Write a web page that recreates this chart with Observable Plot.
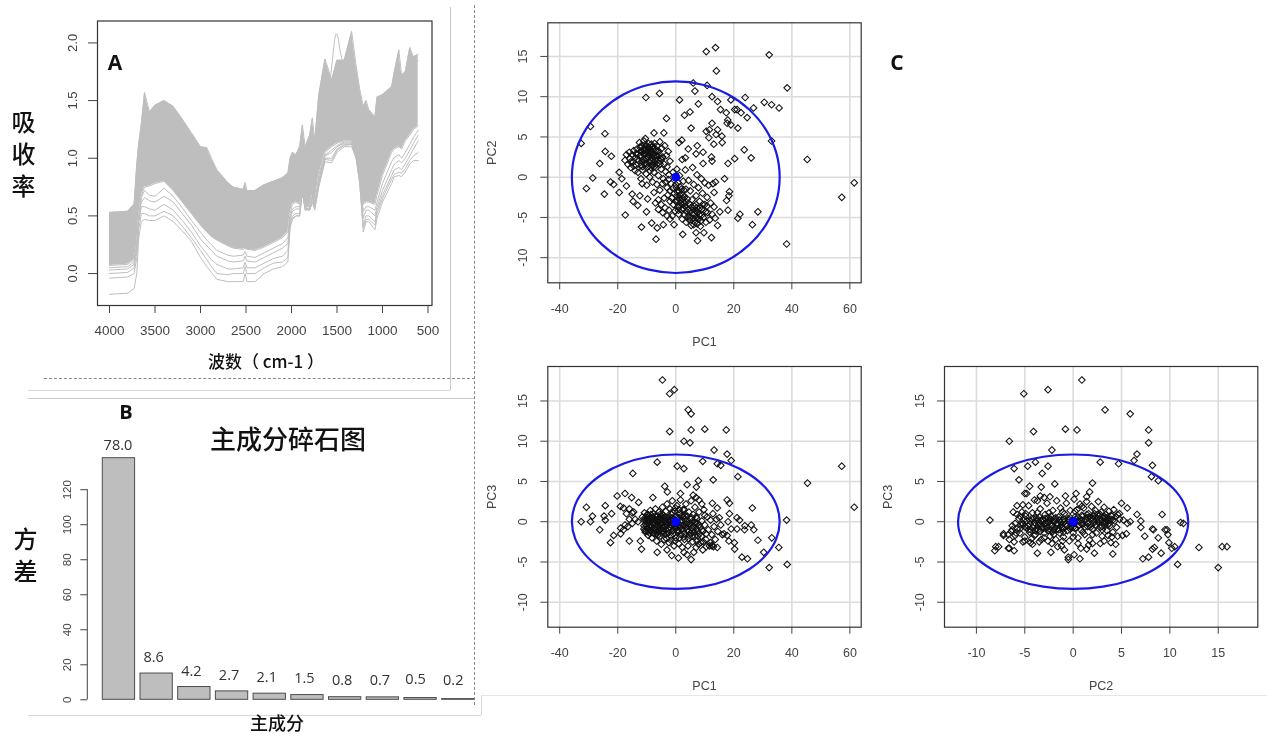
<!DOCTYPE html>
<html><head><meta charset="utf-8">
<script src="https://cdn.jsdelivr.net/npm/d3@7"></script>
<script src="https://cdn.jsdelivr.net/npm/@observablehq/plot@0.6"></script>
<style>
html,body{margin:0;padding:0;background:#fff;}
#page{position:relative;width:1267px;height:736px;overflow:hidden;filter:blur(.4px);}
#page svg{position:absolute;left:0;top:0;background:transparent;max-width:none;}
.t{position:absolute;font-family:"Noto Sans CJK SC","Noto Sans",sans-serif;font-weight:500;color:#111;white-space:nowrap;line-height:1;transform:translate(-50%,-50%);z-index:5;}
.b{font-family:"Open Sans","Noto Sans",sans-serif;font-weight:700;font-size:20px;color:#111;}
.v{writing-mode:vertical-rl;text-orientation:upright;letter-spacing:8px;}
.l{position:absolute;z-index:1;}
</style></head><body><div id="page"></div>
<script>
// ---------- Panel A: spectra ----------
const wavenumbers=[4000,3800,3730,3700,3680,3650,3615,3560,3500,3400,3300,3200,3100,3000,2930,2880,2820,2700,2640,2530,2510,2490,2400,2300,2200,2100,2040,2015,1990,1950,1910,1880,1850,1800,1770,1745,1700,1632,1558,1500,1420,1339,1290,1250,1211,1180,1150,1083,1060,1000,900,870,820,790,750,700,660,608];
const bandUpper=[.53,.54,.6,.95,1.12,1.3,1.57,1.4,1.46,1.5,1.45,1.34,1.22,1.1,1.09,1,.9,.79,.75,.73,.79,.72,.72,.77,.8,.83,.87,1,1.05,1.03,1.1,1.29,1.1,1.2,1.35,1.15,1.55,1.86,1.68,1.85,1.85,2.1,1.8,1.6,1.45,1.5,1.42,1.36,1.53,1.55,1.62,1.75,1.94,1.72,1.75,1.96,1.88,1.9];
const bandLower=[.07,.08,.12,.25,.5,.68,.75,.76,.78,.8,.72,.62,.52,.42,.36,.32,.29,.24,.22,.21,.22,.21,.2,.23,.27,.31,.36,.52,.6,.62,.6,.68,.58,.58,.68,.6,.85,1.05,1.1,1.13,1.15,1.15,1.05,.85,.6,.62,.62,.6,.68,.85,1.05,1.08,1.1,1.08,1.15,1.2,1.25,1.28];
const specHigh=[.5,.51,.57,.9,1.08,1.25,1.5,1.38,1.44,1.48,1.43,1.32,1.2,1.08,1.03,.96,.87,.76,.72,.7,.72,.69,.69,.74,.77,.8,.84,.98,1.03,1.01,1.05,1.2,1.05,1.15,1.25,1.1,1.5,1.78,1.68,1.8,1.85,1.95,1.75,1.55,1.4,1.45,1.38,1.32,1.45,1.5,1.58,1.68,1.8,1.68,1.7,1.85,1.8,1.85];
const specLow1=[-.18,-.17,-.13,0,.3,.45,.47,.46,.46,.5,.45,.37,.28,.14,.06,.01,-.05,-.07,-.07,-.07,0,-.07,-.07,0,.04,.06,.1,.4,.47,.5,.5,.72,.55,.55,.62,.55,.75,.97,.96,1.05,1.1,1.1,1,.78,.36,.45,.45,.38,.48,.62,.78,.84,.85,.84,.88,.95,.98,.98];
const specLow2=[-.04,-.03,0,.14,.38,.52,.52,.5,.5,.54,.5,.41,.31,.2,.12,.06,0,-.01,0,0,.06,0,0,.05,.09,.1,.14,.42,.48,.5,.5,.72,.58,.55,.62,.56,.77,.99,.98,1.07,1.11,1.12,1,.78,.4,.47,.47,.42,.52,.65,.82,.86,.88,.87,.91,.98,1.02,1.05];
const specLow3=[0,.01,.05,.2,.44,.58,.58,.56,.55,.6,.55,.46,.36,.24,.17,.12,.08,.04,.04,.05,.1,.05,.05,.09,.13,.15,.2,.44,.5,.52,.52,.72,.58,.55,.64,.58,.78,1,1,1.08,1.12,1.12,1.02,.8,.42,.5,.5,.45,.55,.68,.85,.9,.92,.9,.95,1.02,1.08,1.15];
const specLow4=[.03,.04,.08,.23,.47,.62,.66,.63,.62,.67,.62,.52,.42,.3,.24,.2,.15,.11,.1,.11,.15,.11,.1,.14,.18,.22,.26,.47,.54,.56,.56,.72,.55,.57,.66,.58,.8,1.02,1.05,1.1,1.13,1.13,1.03,.82,.48,.55,.55,.5,.58,.72,.9,.95,.98,.96,1,1.07,1.13,1.2];
const specLow5=[.05,.06,.1,.25,.49,.66,.72,.68,.67,.74,.67,.57,.46,.36,.29,.25,.2,.16,.15,.16,.19,.15,.14,.18,.22,.26,.31,.49,.56,.58,.58,.7,.56,.57,.67,.59,.82,1.03,1.07,1.11,1.14,1.14,1.04,.83,.54,.58,.58,.55,.62,.78,.97,1.01,1.03,1,1.05,1.12,1.18,1.24];
const peakWavenumbers=[1620,1580,1550,1530,1510,1490,1470,1440,1400];
const peakValues=[1.8,1.7,1.85,2,2.08,2.05,1.95,1.85,1.8];
const spectraTicks=[4000,3500,3000,2500,2000,1500,1000,500];
const absorbTicks=[0,.5,1,1.5,2];

// ---------- Panel B: scree plot ----------
const components=["PC1","PC2","PC3","PC4","PC5","PC6","PC7","PC8","PC9","PC10"];
const variances=[138,15,7.3,4.8,3.5,2.7,1.5,1.4,1,.4];
const percentLabels=["78.0","8.6","4.2","2.7","2.1","1.5","0.8","0.7","0.5","0.2"];
const varianceTicks=[0,20,40,60,80,100,120];

// ---------- Panel C: scores ----------
const pc1Ticks=[-40,-20,0,20,40,60];
const pc2Ticks=[-10,-5,0,5,10,15];
const pc3Ticks=[-10,-5,0,5,10,15];
const ellipse12=[[35.8,0],[34.6,3.08],[31,5.95],[25.3,8.41],[17.9,10.31],[9.27,11.49],[0,11.9],[-9.27,11.49],[-17.9,10.31],[-25.3,8.41],[-31,5.95],[-34.6,3.08],[-35.8,0],[-34.6,-3.08],[-31,-5.95],[-25.3,-8.41],[-17.9,-10.31],[-9.27,-11.49],[0,-11.9],[9.27,-11.49],[17.9,-10.31],[25.3,-8.41],[31,-5.95],[34.6,-3.08]];
const ellipse13=[[35.8,0],[34.6,2.16],[31,4.18],[25.3,5.9],[17.9,7.23],[9.27,8.07],[0,8.35],[-9.27,8.07],[-17.9,7.23],[-25.3,5.9],[-31,4.18],[-34.6,2.16],[-35.8,0],[-34.6,-2.16],[-31,-4.18],[-25.3,-5.9],[-17.9,-7.23],[-9.27,-8.07],[0,-8.35],[9.27,-8.07],[17.9,-7.23],[25.3,-5.9],[31,-4.18],[34.6,-2.16]];
const ellipse23=[[11.9,0],[11.49,2.16],[10.31,4.18],[8.41,5.9],[5.95,7.23],[3.08,8.07],[0,8.35],[-3.08,8.07],[-5.95,7.23],[-8.41,5.9],[-10.31,4.18],[-11.49,2.16],[-11.9,0],[-11.49,-2.16],[-10.31,-4.18],[-8.41,-5.9],[-5.95,-7.23],[-3.08,-8.07],[0,-8.35],[3.08,-8.07],[5.95,-7.23],[8.41,-5.9],[10.31,-4.18],[11.49,-2.16]];
const centre=[[0,0]];

const scores12=[[10.5,15.6],[13.7,16.1],[32.2,15.2],[14,13.2],[38.4,11.1],[6,11.7],[10.8,11.4],[6.6,10.7],[-5.6,10.4],[-10.3,9.9],[1.3,9.6],[12.5,10],[14.4,9.4],[7.8,9.1],[19,9.6],[23.9,9.9],[30.5,9.3],[33,9],[35.6,8.6],[26.8,8.6],[15.4,8.4],[17.4,8],[20.3,8.4],[21.1,8.4],[22.5,8],[24.6,7.4],[4.9,8.1],[3,7.7],[-3.2,7.3],[17.9,7.1],[17.7,6.7],[19,6.5],[21.4,6.1],[12.5,6.7],[5.3,6.1],[10.5,5.7],[11.6,5.9],[14.4,5.9],[11.4,4.9],[13.9,5.3],[15.9,5.1],[16,4.3],[13.1,4.1],[33,4.5],[45.3,2.2],[57.2,-2.5],[61.5,-.7],[38.2,-8.3],[-29.4,6.3],[-32.6,4.2],[-24.4,5.4],[-7.5,5.5],[-4.1,5.5],[-10.5,4.8],[-24.3,3.2],[-22.2,2.6],[-26.2,1.7],[-28.6,-.1],[-30.8,-1.4],[-24.6,-2.1],[-22.5,-.6],[-21.4,-.9],[-19.5,-1.9],[-17.4,-4.7],[-11.8,-6.2],[-8.3,-5.7],[-6.8,-7.7],[-6.4,-6.3],[-4.3,-5.9],[-.6,-5.9],[2.4,-7.1],[7,-6.9],[7.5,-7.9],[9.7,-6.9],[12.3,-7.5],[14.4,-6],[15.2,-4.3],[16.8,-.2],[13.7,-.6],[13.2,-1.9],[18.5,-1.8],[18.3,-2.3],[17.5,-2.9],[18,-4.1],[21.4,-5.1],[22.1,-4.6],[28.3,-4.3],[26.4,-5.9],[18,1.7],[20.3,2.3],[23.6,3.4],[26,2.4],[12.3,2.5],[12.5,2],[9.4,1.7],[9.4,3.1],[7.4,3.9],[7,2.9],[4.3,3.5],[2.1,4.6],[1.1,4.3],[3.3,2.4],[2.2,2.2],[-15,-2.1],[-14.7,-3],[-13.1,-3.5],[-12.4,-2.3],[-10.1,-4.3],[-9.7,-2.7],[-11.6,-.8],[-17,-1.1],[-19.5,.6],[-18.6,-.2],
[-17.5,2.1],[-17,2.8],[-16.5,1.6],[-16,3.1],[-15.8,2.3],[-15.5,1.2],[-15,2.8],[-14.8,1.9],[-14.5,3.3],[-14,.8],[-14,2.4],[-13.6,1.5],[-13.4,3.5],[-13,2.9],[-13,.6],[-12.8,2.1],[-12.5,4.3],[-12.3,3.7],[-12,1.4],[-12,2.7],[-11.7,3.2],[-11.5,.9],[-11.3,2.2],[-11,4.5],[-11,3.6],[-10.8,1.7],[-10.5,2.9],[-10.2,.4],[-10,3.9],[-10,2.3],[-9.8,3.3],[-9.6,1.3],[-9.4,4.2],[-9.2,2.7],[-9,3.6],[-9,1.9],[-8.8,.8],[-8.5,3.1],[-8.4,4.1],[-8.2,2.4],[-8,1.5],[-7.9,3.5],[-7.6,2.9],[-7.5,.6],[-7.3,4.2],[-7.1,2.1],[-7,3.3],[-6.8,1.2],[-6.5,3.9],[-6.3,2.6],[-6,.2],[-6,1.8],[-5.8,3.2],[-5.5,4.4],[-5.3,2.3],[-5,1],[-4.8,3.6],[-4.5,2.5],[-4.3,-.2],[-4,1.6],[-3.8,3.9],[-3.5,.7],[-3.2,2.7],[-3,1.3],[-2.6,3.2],[-2.4,.3],[-2,2],
[-3.5,-.6],[-3,-1.3],[-2.7,-2.2],[-2.5,-.3],[-2,-1.7],[-2,-3],[-1.6,-.8],[-1.4,-2.6],[-1,.6],[-1,-1.4],[-.8,-3.4],[-.5,-2],[-.2,-4.2],[0,-.9],[0,-3],[.4,1],[.5,-1.8],[.7,-3.7],[1,-2.6],[1,-4.6],[1.3,.2],[1.5,-1.2],[1.7,-3.2],[2,-4],[2.2,-5.2],[2.5,-2.2],[2.6,-.5],[3,-3.3],[3,-4.7],[3.3,.9],[3.5,-1.5],[3.6,-5.6],[4,-2.7],[4.2,-4],[4.4,-.4],[4.6,-3.3],[5,-5],[5,-1.7],[5.3,-6],[5.6,-2.8],[5.8,1.2],[6,-3.9],[6.2,-.9],[6.5,-4.6],[6.6,-5.6],[7,-2.3],[7,-3.4],[7.3,.3],[7.5,-4.4],[7.8,-1.3],[8,-5.2],[8.2,-3],[8.5,-6.1],[8.8,-.2],[9,-4],[9.2,-2],[9.5,-5],[10,-3.4],[10,-.7],[10.4,-5.6],[10.8,-2.5],[11,-4.4],[11.3,-1],[11.7,-5.3],[12,-3.2],[12.5,-4.6],[12.8,-.8],[13.2,-3.7],[13.6,-5.1],[-8,-.6],[-7.5,-1.9],[-7,-3.2],[-6.5,-.9],[-6,-2.8],[-6,-4],[-5.5,-1.6],[-5,-3.4],[-4.6,-.8],[-4.5,-4.4],[-4,-2.6],[-3.7,-3.8],[-3,-4.8],[-2.3,-4.1],[-2,-5.2],[-1.2,-4.8],[-12,-.2],[-10,-1],[-9,0],
[-12.5,2.6],[-12,3.2],[-11.6,1.9],[-11.2,2.9],[-10.9,3.3],[-10.6,2.1],[-10.3,3.5],[-10.1,1.7],[-9.7,2.6],[-9.5,3.1],[-9.2,1.9],[-8.9,2.9],[-8.7,3.3],[-8.3,2],[-8.1,2.8],[-7.8,1.8],[-7.5,3.7],[-7.3,2.5],[-6.9,2.7],[-6.6,1.6],[-6.4,3.2],[-6.1,2.2],[-5.7,2.7],[-5.4,1.6],[-4.9,2.2],[-13.4,2.2],[-14.5,1.4],[-15.5,1.9],[-13.7,2.9],[-11.4,1.3],[-9.9,1.2],[-9.4,3.7],[-8.6,1.2],[-7.4,1.3],[-11.9,3.9],[-10.7,4],[-8.1,3.8],
[.2,-1.3],[.8,-.7],[1,-1.7],[1.4,-2.2],[1.6,-2.9],[1.9,-1.5],[2.1,-3.4],[2.3,-2.6],[2.6,-3.9],[2.8,-1.6],[3,-2.5],[3.3,-3.6],[3.6,-3.1],[3.8,-4.3],[1.2,-3.7],[.6,-2.9],[.3,-2.3],[.9,-4.1],[5.4,-3.7],[5.8,-4.6],[6,-5.1],[6.4,-3.6],[6.8,-4.2],[7,-5],[7.2,-3.8],[7.6,-5.2],[7.8,-4],[8.2,-4.7],[8.4,-3.8],[8.7,-5.4],[9,-4.7],[6.2,-5.9],[7.4,-5.8],[4.6,-5.3],[5,-4.2],[4.2,-4.9],[9.3,-3.4],[10.3,-4.3],[10.7,-3.6]];

const scores13=[[-4.6,17.6],[-.5,16.4],[-2.1,15.9],[4.3,13.9],[5.3,13.4],[-2.1,11.2],[5.3,11.4],[10,11.5],[17.4,11.4],[2.8,10],[4.9,9.8],[13.2,8.9],[17.7,8.4],[19.1,7.6],[-6.4,7.4],[9.3,7.5],[14.3,7.2],[15.5,7],[.5,6.9],[2.8,6.6],[-14.8,6],[21.4,5.6],[12.9,5.2],[7.8,5.1],[3.9,4.6],[7.1,4.3],[-3.8,4.4],[-2.9,3.7],[1.6,3.5],[45.4,4.8],[57.2,6.9],[61.5,1.8],[-20.2,3.2],[-17.5,3.5],[-15.2,3],[-7.9,3],[-12.8,2.4],[-30.8,1.8],[-24.3,2],[-19.1,1.9],[-28.7,.7],[-24.7,.7],[-22.1,1],[-32.6,0],[-29.4,0],[-24.3,.2],[-26.2,-1],[-21.4,-1.7],[-22.5,-2.6],[-16,-2.4],[-12.2,-2.4],[-11.8,-3.4],[-6.4,-3.8],[26.4,1.7],[38.2,.2],[17.7,2.7],[18.5,2.3],[12.6,2.3],[14.3,1.7],[18.5,1],[21.1,.5],[22,.2],[18,0],[21.1,-.9],[23.8,-.5],[26,-.4],[26.9,-1],[23.7,-1],[19.1,-.9],[28.3,-2.3],[33.1,-2],[35.5,-3.2],[30.3,-3.8],[38.4,-5.3],[32.2,-5.7],[24.7,-4.6],[22.8,-4.4],[20.2,-2.6],[20.3,-3.4],[18.3,-2.4],[16.6,-1.5],[17.7,-1.7],[14.3,-3.2],[12.5,-3],[5.3,-4.7],[.9,-4.5],[-1.4,-4.2],[-3,-3.5],[3.9,-4.1],[2.8,-3.8],[6.2,-3.8],[10.5,-3.1],[9.3,-3.5],[6,3.3],[7,3],[8,2.7],[9,2.2],[-18,1.7],[-17,1],[-16,.3],[-15,-.2],[-14,.3],[-14.5,1.2],[-13,0],[-16.5,-.6],[-18,-1],[-19,-1.5],[-17.5,-.4],[-16,1.6],[-15,1.1],[-19,-.8],
[-11.5,.6],[-11,-.5],[-10.8,1.1],[-10.5,-1.3],[-10.2,.1],[-10,-.8],[-9.7,.9],[-9.5,-1.7],[-9.3,.3],[-9,-.4],[-8.8,1.4],[-8.6,-1.1],[-8.4,.5],[-8.2,-2],[-8,-.1],[-7.8,1],[-7.6,-.8],[-7.4,-1.5],[-7.2,.3],[-7,1.6],[-6.8,-.4],[-6.6,-2.4],[-6.4,.7],[-6.2,-1.2],[-6,-.1],[-5.8,1.2],[-5.6,-.7],[-5.4,-1.8],[-5.2,.4],[-5,-2.8],[-4.8,-.3],[-4.6,1.8],[-4.4,-1.1],[-4.2,.8],[-4,-2.2],[-3.8,.1],[-3.6,-.6],[-3.4,1.3],[-3.2,-1.5],[-3,2.2],[-2.8,.5],[-2.6,-.9],[-2.4,-2.6],[-2.2,.2],[-2,1.6],[-1.8,-.4],[-1.6,-1.8],[-1.4,.9],[-1.2,2.6],[-1,-1.1],[-.8,.3],[-.6,-3],[-.4,1.3],[-.2,-.5],[0,-2],[.2,.7],[.4,2],[.6,-1.3],[.8,-.2],[1,-2.7],[1.2,1],[1.4,-.7],[1.6,2.7],[1.8,-1.6],[2,.2],[2.3,-3.2],[2.5,1.5],[2.7,-.4],[3,-2.2],[3.2,.7],[3.5,2.2],[3.7,-1.1],[4,-.1],[4.2,-3],[4.5,1.2],[4.7,-1.7],[5,.4],[5.3,2.6],[5.5,-.8],[5.8,-2.5],[6,.9],[6.3,-1.3],[6.6,1.8],[6.8,-.2],[7,-3.2],[7.3,.4],[7.6,-1.8],[8,1.2],[8.3,-.7],[8.6,-2.6],[9,.1],[9.4,-1.2],[9.7,1.5],[10,-.4],[10.4,-2.2],[10.8,.6],[11.2,-1],[11.6,-3],[12,.2],[12.4,-1.6],[12.8,1],[13.2,-.6],[13.6,-2.2],[14,.3],[14.5,-1.2],[15,.5],[15.5,-.4],[16,-1.6],
[-10.9,.2],[-10.4,-.3],[-9.9,.5],[-9.4,-.9],[-8.9,.1],[-8.4,-.6],[-7.9,.6],[-7.4,-.2],[-6.9,-1.1],[-6.4,.2],[-5.9,-.4],[-5.4,.9],[-4.9,-1.4],[-4.4,.3],[-3.9,-.5],[-3.4,.5],[-2.9,-1.2],[-2.4,.1],[-1.9,-.7],[-1.4,.4],[-.9,-1.5],[-.4,.1],[.1,-.8],[.6,.5],[1.1,-1.2],[1.6,0],[2.1,-.9],[2.6,.6],[3.1,-1.5],[3.6,-.3],[4.1,-1],[4.6,-.2],[5.1,-1.4],[5.6,0],[6.1,-.6],[6.6,-1.8],[7.1,-.9],[7.6,-.2],[8.1,-1.5],[-10.6,-1.1],[-9.1,-1.4],[-7.7,-1.4],[-6.2,-1.7],[-4.7,.9],[-3.2,-2.1],[-1.7,-2.3],[-.2,-2.4],[1.3,-2],[2.8,-1.9],[4.3,-2.1],[5.8,-1.8],[7.3,-2.4],[8.8,-1.8],
[-11,-.9],[-10.6,.5],[-10.1,-.5],[-9.8,.9],[-9.6,-1.2],[-9.2,-.1],[-9.1,.5],[-8.7,-.5],[-8.6,.9],[-8.3,-1.3],[-8.1,.2],[-7.8,-.3],[-7.7,.5],[-7.3,-1],[-7.1,.1],[-6.9,.7],[-6.7,-.7],[-6.5,-1.5],[-6.3,0],[-6.1,-.6],[-5.9,.4],[-5.7,-1.1],[-5.5,.1],[-5.3,-.3],[-5.1,-1],[-5,.7],[-4.7,0],[-4.5,-.7],[-4.3,.5],[-4.1,-1.3],[-3.7,.6],[-3.5,-1],[-3.3,0],[-3.1,-.4],[-2.7,-.3],[-2.5,-1.4],[-2.3,.6],[-2.1,-.1],[-1.7,.2],[-1.5,-.4],[-1.1,-.3],[-.7,-1],[-.3,-.8],[.3,-.3],[.7,-1],[1,.4],[1.5,-.4],[2,.7],[2.4,-.5],[3,.3],[3.5,-.7],[4,.7],[4.5,-1.2],[5,-.3],[5.5,.5],[6,-1],[6.5,-.1],[7,.6],[7.5,-1.2],[8,-.4],[9,-1],[10,.8],[-1.3,1.2],[-.1,1.7],[1.1,1.5],[3,1.5],[7.8,-2.8],[9.5,-2.5],[10.5,-1.5],[12,-2.6],[12.5,-2.9],[13,-3.1]];

const scores23=[[.9,17.6],[-5.1,15.9],[-2.6,16.4],[3.3,13.9],[5.9,13.4],[-.8,11.5],[.4,11.4],[-4.1,11.2],[7.8,11.4],[-6.6,10],[7.8,9.8],[-2.2,8.9],[6.6,8.4],[6.3,7.6],[2.8,7.4],[4.7,7.2],[8.2,7],[-3.9,7.4],[-4.7,6.9],[-2.6,6.9],[-6.1,6.6],[-3.2,6],[8.1,5.6],[8.8,5.1],[-5.6,5.2],[-1.9,4.7],[2,4.8],[-4.5,4.4],[-3.3,4.3],[1.7,3.7],[-5,3.5],[-4.8,3.5],[-.8,3.2],[.3,3.5],[1.4,3.1],[-3.4,3.2],[-2.4,3.1],[5,2.3],[5.6,1.7],[-8.6,.2],[9.2,.9],[6.6,.9],[4.8,1],[11.1,-.1],[11.4,-.2],[7,.1],[7,-.7],[5.9,0],[5.6,-.2],[5.2,.2],[8.2,-.9],[8.3,-1],[9.5,-1],[9.7,-1],[9.8,-1.6],[7.4,-1.8],[8.8,-2],[9.9,-2.6],[10.5,-3.1],[10.2,-3.3],[8.4,-3.2],[8.2,-3.4],[9.1,-3.9],[7.8,-4.4],[7.2,-4.6],[10.8,-5.3],[13,-3.2],[15.4,-3.1],[15.9,-3.1],[15,-5.7],[4.1,-4],[4.4,-2.8],[3.9,-2.6],[5.5,-1.5],[5.1,-1.7],[4.6,-1.8],[.7,-4.6],[2.2,-3.9],[1.4,-3.4],[2.8,-2.7],[2,-2.7],[.8,-3.3],[.1,-4.1],[-.5,-4.7],[-.5,-4.4],[-.9,-3.5],[-2.3,-3.8],[-3.7,-3.9],[-6.1,-3.6],[-6.6,-3.3],[-6.7,-3.3],[-7.7,-3.1],[-8,-3.1],[-8.1,-3.6],[-7.2,-1.5],[-7.2,-1.7],[-6.6,-2.2],[-6.1,-2.5],[-5.2,-2.5],[-4.4,-2.6],[-2.6,-2.4],[-1.1,-2.4],[-1.6,-3.1],
[-5.8,-.9],[-5.6,.4],[-5.5,-1.4],[-5.3,1.2],[-5.2,-.3],[-5,-1.9],[-4.9,.7],[-4.8,-.8],[-4.6,2],[-4.5,-1.3],[-4.4,.1],[-4.3,-2.1],[-4.2,1.1],[-4,-.5],[-3.9,-1.6],[-3.8,.5],[-3.7,2.6],[-3.6,-1],[-3.5,-.1],[-3.4,1.6],[-3.3,-2.2],[-3.2,.3],[-3.1,-.7],[-3,-1.4],[-2.9,.9],[-2.8,-.2],[-2.7,2.3],[-2.6,-1.1],[-2.5,.2],[-2.4,-1.8],[-2.3,.7],[-2.2,-.5],[-2.1,1.4],[-2,-1],[-1.9,.1],[-1.8,-2.2],[-1.7,2.6],[-1.6,-.4],[-1.5,.6],[-1.4,-1.4],[-1.3,1.7],[-1.2,-.7],[-1.1,.2],[-1,-1.9],[-.9,1],[-.8,-.3],[-.7,2.3],[-.6,-1.1],[-.5,.4],[-.4,-2.4],[-.3,1.4],[-.2,-.6],[-.1,.1],[0,-1.4],[.1,2.8],[.2,.6],[.3,-.8],[.4,1.5],[.5,-2],[.6,.1],[.7,2.2],[.8,-1],[.9,.8],[1,-.3],[1.1,1.7],[1.2,-1.6],[1.3,.3],[1.4,2.5],[1.5,-.6],[1.6,1],[1.7,-2.3],[1.8,.4],[1.9,1.9],[2,-.9],[2.1,.7],[2.2,-.1],[2.3,1.4],[2.4,-1.4],[2.5,.9],[2.6,2.5],[2.7,.2],[2.8,-.7],[2.9,1.2],[3,-1.8],[3.1,.5],[3.2,1.8],[3.3,-.3],[3.4,.9],[3.5,-1.1],[3.6,.2],[3.7,1.3],[3.8,-.5],[4,.7],[4.1,-1.3],[4.2,1.5],[4.3,.1],[4.5,-.7],[4.6,.9],[4.8,.3],
[-5.4,-.4],[-5.1,.2],[-4.7,-.5],[-4.4,-1],[-4.1,.4],[-3.8,-.9],[-3.5,.6],[-3.3,-.4],[-3,.1],[-2.8,-.9],[-2.6,.5],[-2.3,-.2],[-2.1,-1.2],[-1.9,.4],[-1.6,-.9],[-1.3,-.1],[-1.1,-.8],[-.9,.3],[-.6,-.5],[-.3,.5],[0,-.7],[.3,.3],[.6,-.5],[.9,.2],[1.2,-.7],[1.5,.5],[1.8,-.4],[2.1,.3],[2.4,-.5],[2.7,.8],[3,-.1],[3.3,.5],[3.6,-.4],[3.9,.3],[-4,-1.7],[-3,-2],[-2,-1.6],[-1,-1.3],[0,-1.9],[1,-1.3],[2,-1.6],[3,-1],[-5,-2.4],[-4.2,-2.8],[-3.5,-2.5],[-2.2,-2.7],[-1.2,-3],[.5,-2.7],[1.6,-2.9],[3.2,-2.4],[3.6,-1.7],[4,-1.9],[-6.3,-1],[-6,-.2],[-6,-1.7],[-5.8,.9],[-6.2,1.2],[-6.4,-1.2],[-5.2,2.1],[-5.8,2],[-4,2.7],[-3,3],
[-5.5,-.9],[-5.3,-.1],[-5,-.6],[-4.8,.1],[-4.6,-1],[-4.5,-.3],[-4.3,.4],[-4.2,-.7],[-4,-.1],[-3.9,-1.1],[-3.7,.2],[-3.6,-.5],[-3.4,-1.2],[-3.3,.1],[-3.2,-.8],[-3,-.3],[-2.9,.4],[-2.7,-.7],[-2.6,-.1],[-2.4,-1],[-2.3,.3],[-2.2,-.5],[-2,0],[-1.9,-.8],[-1.8,.5],[-1.6,-.2],[-1.5,-1],[-1.4,.2],[-1.2,-.4],[-1,-.9],[-.9,0],[-.7,-.5],[-.5,.2],[-.3,-.9],[-.1,-.3],[.2,-.8],[.5,.6],[.8,-.2],[1,.7],[1.2,.1],[1.4,.9],[1.5,-.2],[1.7,.6],[1.8,-.7],[2,.4],[2.2,1],[2.3,-.4],[2.5,.4],[2.6,-.1],[2.8,.9],[2.9,.2],[3,-.6],[3.2,.7],[3.3,0],[3.5,.5],[3.7,-.2],[3.9,.8],[4.1,.2],[4.4,.6],[-6.3,-.5],[-6.7,-1.6],[-5.9,-1.4],[-5.5,.7],[-4.9,1],[-3.7,1.1],[-2.5,1.1],[-1.1,1.2],[.2,1.3],[.9,1.9]];

// ---------- drawing ----------
const W=1267,H=736, page=document.getElementById("page");
const AX="#444", TICK_FONT="Liberation Sans";
const box=(l,r,t,b)=>({width:W,height:H,marginLeft:l,marginRight:W-r,marginTop:t,marginBottom:H-b,style:{background:"transparent",fontFamily:TICK_FONT,overflow:"visible"}});
const add=(svg)=>page.appendChild(svg);
const plain=d=>String(d);

// Panel A
const specRows=wavenumbers.map((w,i)=>({w,up:bandUpper[i],lo:bandLower[i]}));
const lineSets=[bandUpper,bandLower,specHigh,specLow1,specLow2,specLow3,specLow4,specLow5];
add(Plot.plot({...box(97,431.5,20.5,305),
  x:{domain:[4132,456]},y:{domain:[-.277,2.19]},
  marks:[
    Plot.areaY(specRows,{x:"w",y1:"lo",y2:"up",fill:"#bebebe"}),
    ...lineSets.map(s=>Plot.line(wavenumbers.map((w,i)=>({w,a:s[i]})),{x:"w",y:"a",stroke:"#bebebe",strokeWidth:1})),
    Plot.line(peakWavenumbers.map((w,i)=>({w,a:peakValues[i]})),{x:"w",y:"a",curve:"catmull-rom",stroke:"#bebebe",strokeWidth:1}),
    Plot.frame({stroke:"#333",strokeWidth:1.2}),
    Plot.axisX({ticks:spectraTicks,tickFormat:plain,tickSize:8,tickPadding:12,fontSize:13.5,color:AX,label:null,stroke:AX}),
    Plot.axisY({ticks:absorbTicks,tickFormat:d=>d.toFixed(1),tickSize:9,tickPadding:12,tickRotate:-90,fontSize:13,color:AX,label:null,stroke:AX})
  ]}));

// Panel B
const bars=components.map((c,i)=>({c,v:variances[i],l:percentLabels[i]}));
const labelAt=(f,dx,dy)=>Plot.text(bars.filter(f),{x:"c",y:"v",text:"l",dx,dy,fontFamily:"Open Sans",fontSize:14.5,fill:"#333"});
add(Plot.plot({...box(87.3,477,457.7,699.3),
  x:{domain:components,range:[99.6,476.6],padding:0,round:false,axis:null},
  y:{domain:[0,138]},
  marks:[
    Plot.barY(bars,{x:"c",y:"v",insetLeft:2.7,insetRight:2.7,fill:"#bebebe",stroke:"#4d4d4d",strokeWidth:1}),
    labelAt(d=>d.v>=100,-1,-13),
    labelAt(d=>d.v<100&&d.v>=3,-3,-16),
    labelAt(d=>d.v<3&&d.v>=1.4,-3,-17),
    labelAt(d=>d.v<1.4,-5,-19),
    Plot.axisY({ticks:varianceTicks,tickFormat:plain,tickSize:7,tickPadding:10,tickRotate:-90,fontSize:11.5,color:AX,label:null,stroke:AX}),
    (idx,{y})=>{const s=d3.create("svg:line").attr("x1",87.3).attr("x2",87.3).attr("y1",y(0)).attr("y2",y(120)).attr("stroke",AX);return s.node();}
  ]}));

// Panel C
function scatter(points,ell,xTicks,yTicks,xLab,yLab,rect,xDom,yDom){
  const [l,r,t,b]=rect;
  add(Plot.plot({...box(l,r,t,b),
    x:{domain:xDom},y:{domain:yDom},
    marks:[
      Plot.gridX(xTicks,{stroke:"#dcdcdc",strokeWidth:1.6,strokeOpacity:1}),
      Plot.gridY(yTicks,{stroke:"#dcdcdc",strokeWidth:1.6,strokeOpacity:1}),
      Plot.dot(points,{x:d=>d[0],y:d=>d[1],symbol:"diamond2",r:3,fill:"none",stroke:"#111",strokeWidth:1.05}),
      Plot.line(ell,{x:d=>d[0],y:d=>d[1],curve:"catmull-rom-closed",stroke:"#1a1ae6",strokeWidth:2.2}),
      Plot.dot(centre,{x:d=>d[0],y:d=>d[1],r:4.5,fill:"#0000ff",stroke:"none"}),
      Plot.frame({stroke:"#333",strokeWidth:1.2}),
      Plot.axisX({ticks:xTicks,tickFormat:plain,tickSize:7,tickPadding:14,fontSize:12.5,color:AX,stroke:AX,label:xLab,labelAnchor:"center",labelOffset:63,labelArrow:"none"}),
      Plot.axisY({ticks:yTicks,tickFormat:plain,tickSize:7,tickPadding:14,tickRotate:-90,fontSize:12.5,color:AX,stroke:AX,label:yLab,labelAnchor:"center",labelOffset:61,labelArrow:"none"})
    ]}));
}
scatter(scores12,ellipse12,pc1Ticks,pc2Ticks,"PC1","PC2",[547.3,860.7,22.3,282.3],[-44.1,63.9],[-13.12,19.18]);
scatter(scores13,ellipse13,pc1Ticks,pc3Ticks,"PC1","PC3",[547.3,860.7,366,626.7],[-44.1,63.9],[-13.1,19.28]);
scatter(scores23,ellipse23,pc2Ticks,pc3Ticks,"PC2","PC3",[944,1257.3,366,626.7],[-13.3,19.09],[-13.1,19.28]);

// Titles and panel letters
const txt=(s,x,y,size,cls="")=>{const d=document.createElement("div");d.className="t "+cls;d.textContent=s;d.style.cssText=`left:${x}px;top:${y}px;font-size:${size}px;`;page.appendChild(d);};
txt("吸收率",23,158,24,"v"); txt("方差",25,559,24,"v");
txt("A",115,62,21,"b"); txt("B",126,412,20,"b"); txt("C",897,62,21,"b");
txt("波数（ cm-1 ）",266,360,17);
txt("主成分碎石图",288,438,26);
txt("主成分",277,722,18);

// Screenshot guide lines
const rule=(css)=>{const d=document.createElement("div");d.className="l";d.style.cssText=css;page.appendChild(d);};
rule("left:450px;top:7px;width:0;height:383px;border-left:1px solid #c8c8c8");
rule("left:44px;top:378px;width:431px;height:0;border-top:1px dashed #888");
rule("left:28px;top:390px;width:422px;height:0;border-top:1px solid #d8d8d8");
rule("left:28px;top:398px;width:447px;height:0;border-top:1px solid #c8c8c8");
rule("left:474px;top:5px;width:0;height:700px;border-left:1px dashed #888");
rule("left:28px;top:715px;width:453px;height:0;border-top:1px solid #d8d8d8");
rule("left:481px;top:695px;width:0;height:20px;border-left:1px solid #d8d8d8");
rule("left:481px;top:695px;width:786px;height:0;border-top:1px solid #e6e6e6");
</script></body></html>
